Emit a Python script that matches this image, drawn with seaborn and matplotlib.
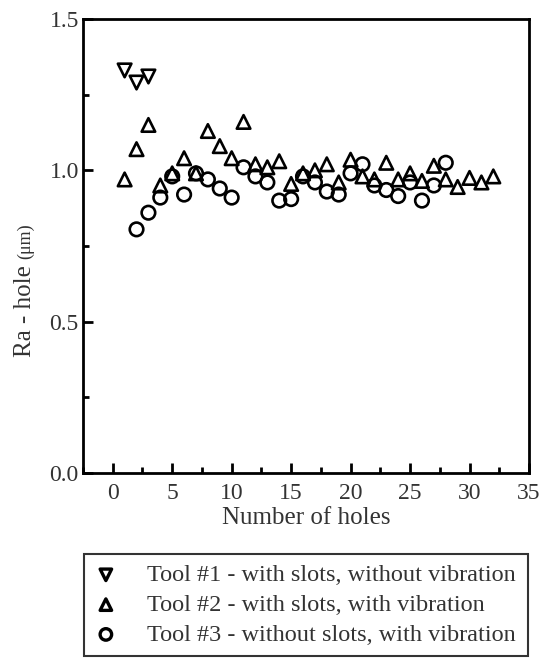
import matplotlib
matplotlib.use("Agg")
import matplotlib.pyplot as plt
import seaborn as sns
import pandas as pd
from matplotlib.ticker import MultipleLocator

# ---- data ----
tool1_x = [1, 2, 3]
tool1_y = [1.33, 1.29, 1.31]

tool2_x = list(range(1, 33))
tool2_y = [0.97, 1.07, 1.15, 0.95, 0.99, 1.04, 0.99, 1.13, 1.08, 1.04,
           1.16, 1.02, 1.01, 1.03, 0.955, 0.99, 1.00, 1.02, 0.96, 1.035,
           0.98, 0.97, 1.025, 0.97, 0.99, 0.965, 1.015, 0.97, 0.945, 0.975,
           0.96, 0.98]

tool3_x = list(range(2, 29))
tool3_y = [0.805, 0.86, 0.91, 0.98, 0.92, 0.99, 0.97, 0.94, 0.91, 1.01,
           0.98, 0.96, 0.90, 0.905, 0.98, 0.96, 0.93, 0.92, 0.99, 1.02,
           0.95, 0.935, 0.915, 0.96, 0.90, 0.95, 1.025]

labels = ["Tool #1 - with slots, without vibration",
          "Tool #2 - with slots, with vibration",
          "Tool #3 - without slots, with vibration"]
x_ticks = [0, 5, 10, 15, 20, 25, 30, 35]
y_ticks = [0.0, 0.5, 1.0, 1.5]

sns.set_theme(style="white")
plt.rcParams["font.family"] = ["Liberation Serif", "DejaVu Serif"]

W, H = 543, 661
fig = plt.figure(figsize=(W/100, H/100), dpi=100)
ax = fig.add_axes([83/W, 1-473/H, (529-83)/W, (473-19)/H])

TXT = "#333333"
series = [(tool1_x, tool1_y, "v"), (tool2_x, tool2_y, "^"), (tool3_x, tool3_y, "o")]
for (xs, ys, m), lab in zip(series, labels):
    df = pd.DataFrame({"x": xs, "y": ys})
    sns.scatterplot(data=df, x="x", y="y", marker=m, s=95, facecolor="none",
                    edgecolor="black", linewidth=1.9, ax=ax, label=lab, legend=False)

ax.set_xlim(-2.5, 35)
ax.set_ylim(0.0, 1.5)
ax.set_xticks(x_ticks)
ax.set_yticks(y_ticks)
ax.set_yticklabels([f"{v:.1f}" for v in y_ticks])
ax.xaxis.set_minor_locator(MultipleLocator(2.5))
ax.yaxis.set_minor_locator(MultipleLocator(0.25))
ax.tick_params(which="major", direction="in", length=7, width=2, colors="black",
               labelsize=17, labelcolor=TXT)
ax.tick_params(axis="x", which="major", pad=7)
ax.tick_params(axis="y", which="major", pad=3)
ax.tick_params(which="minor", direction="in", length=4, width=2, colors="black")
ax.tick_params(axis="x", which="both", bottom=True, top=False)
ax.tick_params(axis="y", which="both", left=True, right=False)
for sp in ax.spines.values():
    sp.set_linewidth(2)
    sp.set_color("black")

ax.set_xlabel("Number of holes", fontsize=18, color=TXT, labelpad=2)
ax.set_ylabel("")

# y label: "Ra - hole" with smaller "(μm)"
t1 = fig.text(25/W, 1-357/H, "Ra - hole", rotation=90, ha="center", va="bottom",
              fontsize=18, color=TXT)
fig.canvas.draw()
bb = t1.get_window_extent(fig.canvas.get_renderer())
fig.text(26/W, (bb.y1 + 6)/H, "(μm)", rotation=90, ha="center", va="bottom",
         fontsize=13, color=TXT)

handles, lbls = ax.get_legend_handles_labels()
leg = fig.legend(handles, lbls, loc="center",
                 bbox_to_anchor=(84/W, 1-657/H, (528-84)/W, (657-553)/H),
                 mode="expand", borderaxespad=0, fontsize=17.5, frameon=True,
                 fancybox=False, edgecolor="black", handletextpad=1.2,
                 labelspacing=0.32, borderpad=0.4, handlelength=1.0,
                 markerscale=0.85)
leg.get_frame().set_linewidth(1.5)
for t in leg.get_texts():
    t.set_color(TXT)
for h in leg.legend_handles:
    h.set_linewidth(2.4)

fig.savefig("out.png", dpi=100)
